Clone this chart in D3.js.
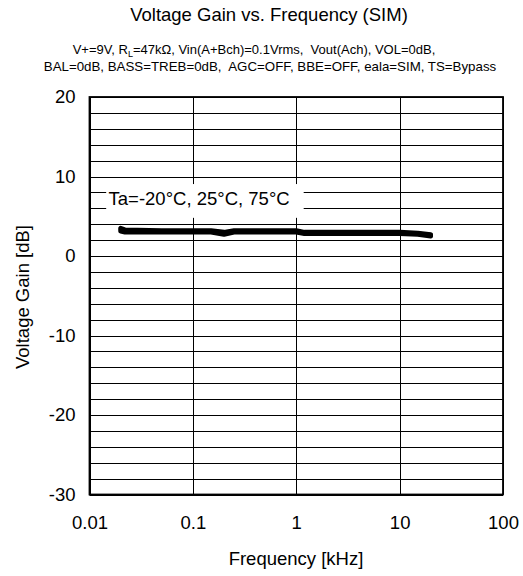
<!DOCTYPE html>
<html><head><meta charset="utf-8">
<script src="https://cdn.jsdelivr.net/npm/d3@7"></script>
<style>body{margin:0;background:#fff}svg{display:block;font-family:"Liberation Sans",Arial,sans-serif}</style>
</head><body><svg id="c" width="523" height="576"></svg>
<script>
const freqs = [0.02, 0.022, 0.05, 0.1, 0.15, 0.2, 0.25, 0.5, 1, 1.2, 2, 5, 10, 15, 20];
const gainM20 = [3.5, 3.3, 3.2, 3.2, 3.2, 3.0, 3.2, 3.2, 3.2, 3.0, 3.0, 3.0, 3.0, 2.9, 2.7];
const gain25  = [3.3, 3.1, 3.1, 3.1, 3.1, 2.8, 3.1, 3.1, 3.1, 2.9, 2.9, 2.9, 2.9, 2.8, 2.6];
const gain75  = [3.1, 3.0, 3.0, 3.0, 3.0, 2.7, 3.0, 3.0, 3.0, 2.8, 2.8, 2.8, 2.8, 2.7, 2.5];
const xTicks = [0.01, 0.1, 1, 10, 100];
const xTickLabels = ["0.01", "0.1", "1", "10", "100"];
const yTicks = [20, 10, 0, -10, -20, -30];
const yTickLabels = ["20", "10", "0", "-10", "-20", "-30"];
const yGrid = d3.range(-30, 21, 2);
const title = "Voltage Gain vs. Frequency (SIM)";
const legendText = "Ta=-20°C, 25°C, 75°C";

const svg = d3.select("#c");
const L = 89.5, R = 503, T = 97, B = 494.5;
const x = d3.scaleLog().domain([0.01, 100]).range([L, R]);
const y = d3.scaleLinear().domain([-30, 20]).range([B, T]);

// grid
const g = svg.append("g");
g.selectAll("line.h").data(yGrid).join("line")
  .attr("x1", L).attr("x2", R).attr("y1", d => Math.round(y(d)) + 0.5).attr("y2", d => Math.round(y(d)) + 0.5)
  .attr("stroke", "#000").attr("stroke-width", 1);
g.selectAll("line.v").data(xTicks).join("line")
  .attr("y1", T).attr("y2", B).attr("x1", d => Math.round(x(d)) + 0.5).attr("x2", d => Math.round(x(d)) + 0.5)
  .attr("stroke", "#000").attr("stroke-width", 1);

// legend label box
const lb = svg.append("g");
lb.append("rect").attr("x", x(0.0145)).attr("y", y(9.05)).attr("width", x(1.18) - x(0.0145)).attr("height", y(4.8) - y(9.05)).attr("fill", "#fff");
lb.append("text").attr("x", x(0.0153)).attr("y", y(6.4)).attr("font-size", 18.5).attr("fill", "#000").text(legendText);

// lines
const line = d3.line().x((d, i) => x(freqs[i])).y(d => y(d)).curve(d3.curveLinear);
[gainM20, gain25, gain75].forEach(s => {
  svg.append("path").datum(s).attr("d", line).attr("fill", "none").attr("stroke", "#000")
    .attr("stroke-width", 4.6).attr("stroke-linejoin", "round").attr("stroke-linecap", "round");
});

// frame
svg.append("rect").attr("x", L).attr("y", T).attr("width", R - L).attr("height", B - T)
  .attr("fill", "none").attr("stroke", "#000").attr("stroke-width", 1.8);

// axes labels
const xAxis = d3.axisBottom(x).tickValues(xTicks).tickFormat((d, i) => xTickLabels[i]).tickSize(0).tickPadding(21);
const xa = svg.append("g").attr("transform", `translate(0,${B})`).call(xAxis);
xa.select(".domain").remove();
xa.selectAll("text").attr("font-size", 18.5).attr("font-family", "Liberation Sans, Arial, sans-serif").attr("fill", "#000");

const yAxis = d3.axisLeft(y).tickValues(yTicks).tickFormat((d, i) => yTickLabels[i]).tickSize(0).tickPadding(14);
const ya = svg.append("g").attr("transform", `translate(${L},0)`).call(yAxis);
ya.select(".domain").remove();
ya.selectAll("text").attr("font-size", 18.5).attr("font-family", "Liberation Sans, Arial, sans-serif").attr("fill", "#000");

// titles
svg.append("text").attr("x", 269).attr("y", 21).attr("text-anchor", "middle").attr("font-size", 18.5).text(title);
const st = svg.append("text").attr("text-anchor", "middle").attr("font-size", 13).attr("fill", "#000").style("white-space", "pre");
const l1 = st.append("tspan").attr("x", 254).attr("y", 53.5);
l1.append("tspan").text("V+=9V, R");
l1.append("tspan").attr("font-size", 9).attr("dy", 3.5).text("L");
l1.append("tspan").attr("dy", -3.5).text("=47kΩ, Vin(A+Bch)=0.1Vrms,  Vout(Ach), VOL=0dB,");
st.append("tspan").attr("x", 270).attr("y", 71).attr("font-size", 13.3).text("BAL=0dB, BASS=TREB=0dB,  AGC=OFF, BBE=OFF, eala=SIM, TS=Bypass");

svg.append("text").attr("x", 296).attr("y", 565).attr("text-anchor", "middle").attr("font-size", 18.5).text("Frequency [kHz]");
svg.append("text").attr("transform", "translate(29,297) rotate(-90)").attr("text-anchor", "middle").attr("font-size", 18.5).text("Voltage Gain [dB]");
</script></body></html>
